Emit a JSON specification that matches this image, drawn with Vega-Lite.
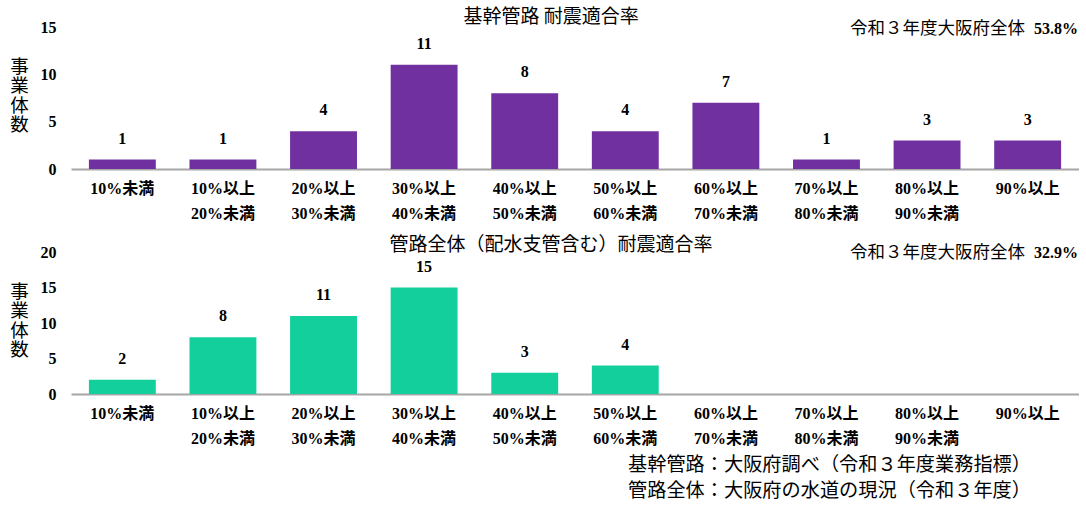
{
  "$schema": "https://vega.github.io/schema/vega-lite/v6.json",
  "padding": {"left": 9, "top": 8, "right": 0, "bottom": 0},
  "background": "white",
  "datasets": {
    "kikan": [
      {"category": "10%未満", "count": 1},
      {"category": "10%以上20%未満", "count": 1},
      {"category": "20%以上30%未満", "count": 4},
      {"category": "30%以上40%未満", "count": 11},
      {"category": "40%以上50%未満", "count": 8},
      {"category": "50%以上60%未満", "count": 4},
      {"category": "60%以上70%未満", "count": 7},
      {"category": "70%以上80%未満", "count": 1},
      {"category": "80%以上90%未満", "count": 3},
      {"category": "90%以上", "count": 3}
    ],
    "zentai": [
      {"category": "10%未満", "count": 2},
      {"category": "10%以上20%未満", "count": 8},
      {"category": "20%以上30%未満", "count": 11},
      {"category": "30%以上40%未満", "count": 15},
      {"category": "40%以上50%未満", "count": 3},
      {"category": "50%以上60%未満", "count": 4}
    ],
    "note1": [{"category": "90%以上", "count": 15, "label": "令和３年度大阪府全体", "rate": "53.8%"}],
    "note2": [{"category": "90%以上", "count": 20, "label": "令和３年度大阪府全体", "rate": "32.9%"}]
  },
  "title": {
    "text": ["基幹管路：大阪府調べ（令和３年度業務指標）", "管路全体：大阪府の水道の現況（令和３年度）"],
    "orient": "bottom",
    "anchor": "end",
    "font": "Noto Sans CJK JP",
    "fontSize": 19.2,
    "fontWeight": "normal",
    "color": "#000000",
    "lineHeight": 26,
    "dx": -48,
    "offset": 10
  },
  "config": {
    "view": {"stroke": null},
    "font": "Liberation Serif, Noto Sans CJK JP",
    "concat": {"spacing": 83},
    "axisX": {
      "domainColor": "#A6A6A6",
      "domainWidth": 2,
      "ticks": false,
      "labelAngle": 0,
      "labelFont": "Liberation Serif, Noto Sans CJK JP",
      "labelFontSize": 16,
      "labelFontWeight": "bold",
      "labelColor": "#000000",
      "labelPadding": 11,
      "labelLineHeight": 25,
      "title": null
    },
    "axisY": {
      "domain": false,
      "ticks": false,
      "grid": false,
      "labelFont": "Liberation Serif",
      "labelFontSize": 16,
      "labelFontWeight": "bold",
      "labelColor": "#000000",
      "labelPadding": 15,
      "titleAngle": 0,
      "titleFont": "Noto Sans CJK JP",
      "titleFontSize": 18.5,
      "titleFontWeight": "normal",
      "titleColor": "#000000",
      "titleLineHeight": 19.6,
      "titleBaseline": "middle",
      "titleAlign": "center",
      "titleX": -52,
      "titleY": 39
    },
    "title": {
      "font": "Noto Sans CJK JP",
      "fontSize": 19,
      "fontWeight": "normal",
      "color": "#000000"
    }
  },
  "bounds": "flush",
  "vconcat": [
    {
      "width": 1008,
      "height": 142,
      "title": {"text": "基幹管路 耐震適合率", "anchor": "middle", "dx": -24, "offset": -8},
      "encoding": {
        "x": {
          "field": "category", "type": "nominal", "sort": null,
          "scale": {
            "domain": ["10%未満", "10%以上20%未満", "20%以上30%未満", "30%以上40%未満", "40%以上50%未満", "50%以上60%未満", "60%以上70%未満", "70%以上80%未満", "80%以上90%未満", "90%以上"],
            "paddingInner": 0.335, "paddingOuter": 0.178
          },
          "axis": {"labelExpr": "length(datum.label) > 5 ? [substring(datum.label,0,5), substring(datum.label,5)] : datum.label"}
        },
        "y": {
          "field": "count", "type": "quantitative",
          "scale": {"domain": [0, 15], "nice": false},
          "axis": {"values": [0, 5, 10, 15], "title": ["事", "業", "体", "数"]}
        }
      },
      "layer": [
        {
          "data": {"name": "kikan"},
          "mark": {"type": "bar", "color": "#7030A0"}
        },
        {
          "data": {"name": "kikan"},
          "mark": {"type": "text", "dy": -21, "fontSize": 16, "fontWeight": "bold", "font": "Liberation Serif", "color": "#000000"},
          "encoding": {"text": {"field": "count", "type": "quantitative"}}
        },
        {
          "data": {"name": "note1"},
          "mark": {"type": "text", "align": "right", "baseline": "middle", "dx": 17, "dy": 2, "fontSize": 16, "font": "Liberation Serif", "fontWeight": "bold", "color": "#000000"},
          "encoding": {
            "x": {"field": "category", "type": "nominal", "bandPosition": 1},
            "text": {"field": "rate"}
          }
        },
        {
          "data": {"name": "note1"},
          "mark": {"type": "text", "align": "right", "baseline": "middle", "dx": -36, "dy": 2, "fontSize": 17.5, "font": "Noto Sans CJK JP", "fontWeight": "normal", "color": "#000000"},
          "encoding": {
            "x": {"field": "category", "type": "nominal", "bandPosition": 1},
            "text": {"field": "label"}
          }
        }
      ]
    },
    {
      "width": 1008,
      "height": 142,
      "title": {"text": "管路全体（配水支管含む）耐震適合率", "anchor": "middle", "dx": -24, "offset": -11},
      "encoding": {
        "x": {
          "field": "category", "type": "nominal", "sort": null,
          "scale": {
            "domain": ["10%未満", "10%以上20%未満", "20%以上30%未満", "30%以上40%未満", "40%以上50%未満", "50%以上60%未満", "60%以上70%未満", "70%以上80%未満", "80%以上90%未満", "90%以上"],
            "paddingInner": 0.335, "paddingOuter": 0.178
          },
          "axis": {"labelExpr": "length(datum.label) > 5 ? [substring(datum.label,0,5), substring(datum.label,5)] : datum.label"}
        },
        "y": {
          "field": "count", "type": "quantitative",
          "scale": {"domain": [0, 20], "nice": false},
          "axis": {"values": [0, 5, 10, 15, 20], "title": ["事", "業", "体", "数"], "titleY": 39}
        }
      },
      "layer": [
        {
          "data": {"name": "zentai"},
          "mark": {"type": "bar", "color": "#13CF9B"}
        },
        {
          "data": {"name": "zentai"},
          "mark": {"type": "text", "dy": -21, "fontSize": 16, "fontWeight": "bold", "font": "Liberation Serif", "color": "#000000"},
          "encoding": {"text": {"field": "count", "type": "quantitative"}}
        },
        {
          "data": {"name": "note2"},
          "mark": {"type": "text", "align": "right", "baseline": "middle", "dx": 17, "dy": 1, "fontSize": 16, "font": "Liberation Serif", "fontWeight": "bold", "color": "#000000"},
          "encoding": {
            "x": {"field": "category", "type": "nominal", "bandPosition": 1},
            "text": {"field": "rate"}
          }
        },
        {
          "data": {"name": "note2"},
          "mark": {"type": "text", "align": "right", "baseline": "middle", "dx": -36, "dy": 1, "fontSize": 17.5, "font": "Noto Sans CJK JP", "fontWeight": "normal", "color": "#000000"},
          "encoding": {
            "x": {"field": "category", "type": "nominal", "bandPosition": 1},
            "text": {"field": "label"}
          }
        }
      ]
    }
  ]
}
